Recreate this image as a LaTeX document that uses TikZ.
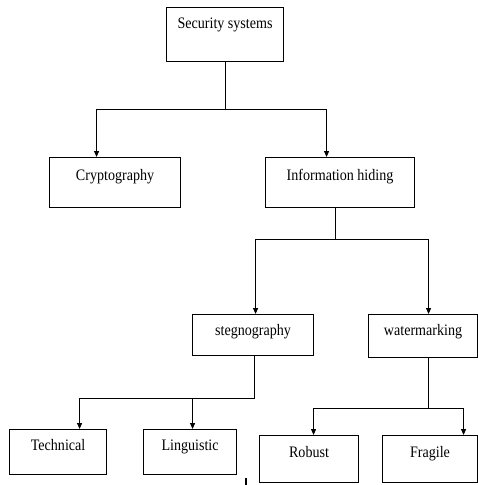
\documentclass[tikz,border=0pt]{standalone}
\usepackage{fontspec}
\setmainfont{Liberation Serif}[FakeStretch=0.88]
\usetikzlibrary{arrows.meta}

\begin{document}
\begin{tikzpicture}[x=1pt, y=-1pt,
   box/.style={draw, line width=1.1pt, inner xsep=0pt, inner ysep=0pt,
               anchor=north west, font=\fontsize{16}{18}\selectfont},
   arr/.style={line width=1.1pt, -{Triangle[length=6pt,width=5pt]}},
   link/.style={line width=1.1pt}]
 \useasboundingbox (0,0) rectangle (477,485);
 \node[box, minimum width=117, text height=21, text depth=33] (security) at (166,7) {Security systems};
 \node[box, minimum width=131, text height=23, text depth=27] (crypto) at (49,157) {Cryptography};
 \node[box, minimum width=149, text height=23, text depth=27] (info) at (265,157) {Information hiding};
 \node[box, minimum width=121, text height=21, text depth=20] (steg) at (192,314) {stegnography};
 \node[box, minimum width=109, text height=21, text depth=22] (water) at (368,314) {watermarking};
 \node[box, minimum width=97, text height=21, text depth=24] (technical) at (9,429) {Technical};
 \node[box, minimum width=93, text height=21, text depth=24] (linguistic) at (143,429) {Linguistic};
 \node[box, minimum width=99, text height=22, text depth=25] (robust) at (259,435) {Robust};
 \node[box, minimum width=95, text height=22, text depth=25] (fragile) at (382,435) {Fragile};

 \draw[arr] (security.south) -- ++(0,47) coordinate (j1) -| ([xshift=-18.5]crypto.north);
 \draw[arr] (j1) -| ([xshift=-13.5]info.north);
 \draw[arr] ([xshift=-4.5]info.south) -- ++(0,31) coordinate (j2) -| ([xshift=2.5]steg.north);
 \draw[arr] (j2) -| ([xshift=5.5]water.north);
 \draw[arr] ([xshift=1.5]steg.south) -- ++(0,42) coordinate (j3) -| ([xshift=21.5]technical.north);
 \draw[arr] (j3) -| ([xshift=2.5]linguistic.north);
 \draw[arr] ([xshift=5.5]water.south) -- ++(0,50) coordinate (j4) -| ([xshift=4.5]robust.north);
 \draw[arr] (j4) -| ([xshift=33.5]fragile.north);
 \draw[link] (246,478) -- (246,485);
\end{tikzpicture}
\end{document}
